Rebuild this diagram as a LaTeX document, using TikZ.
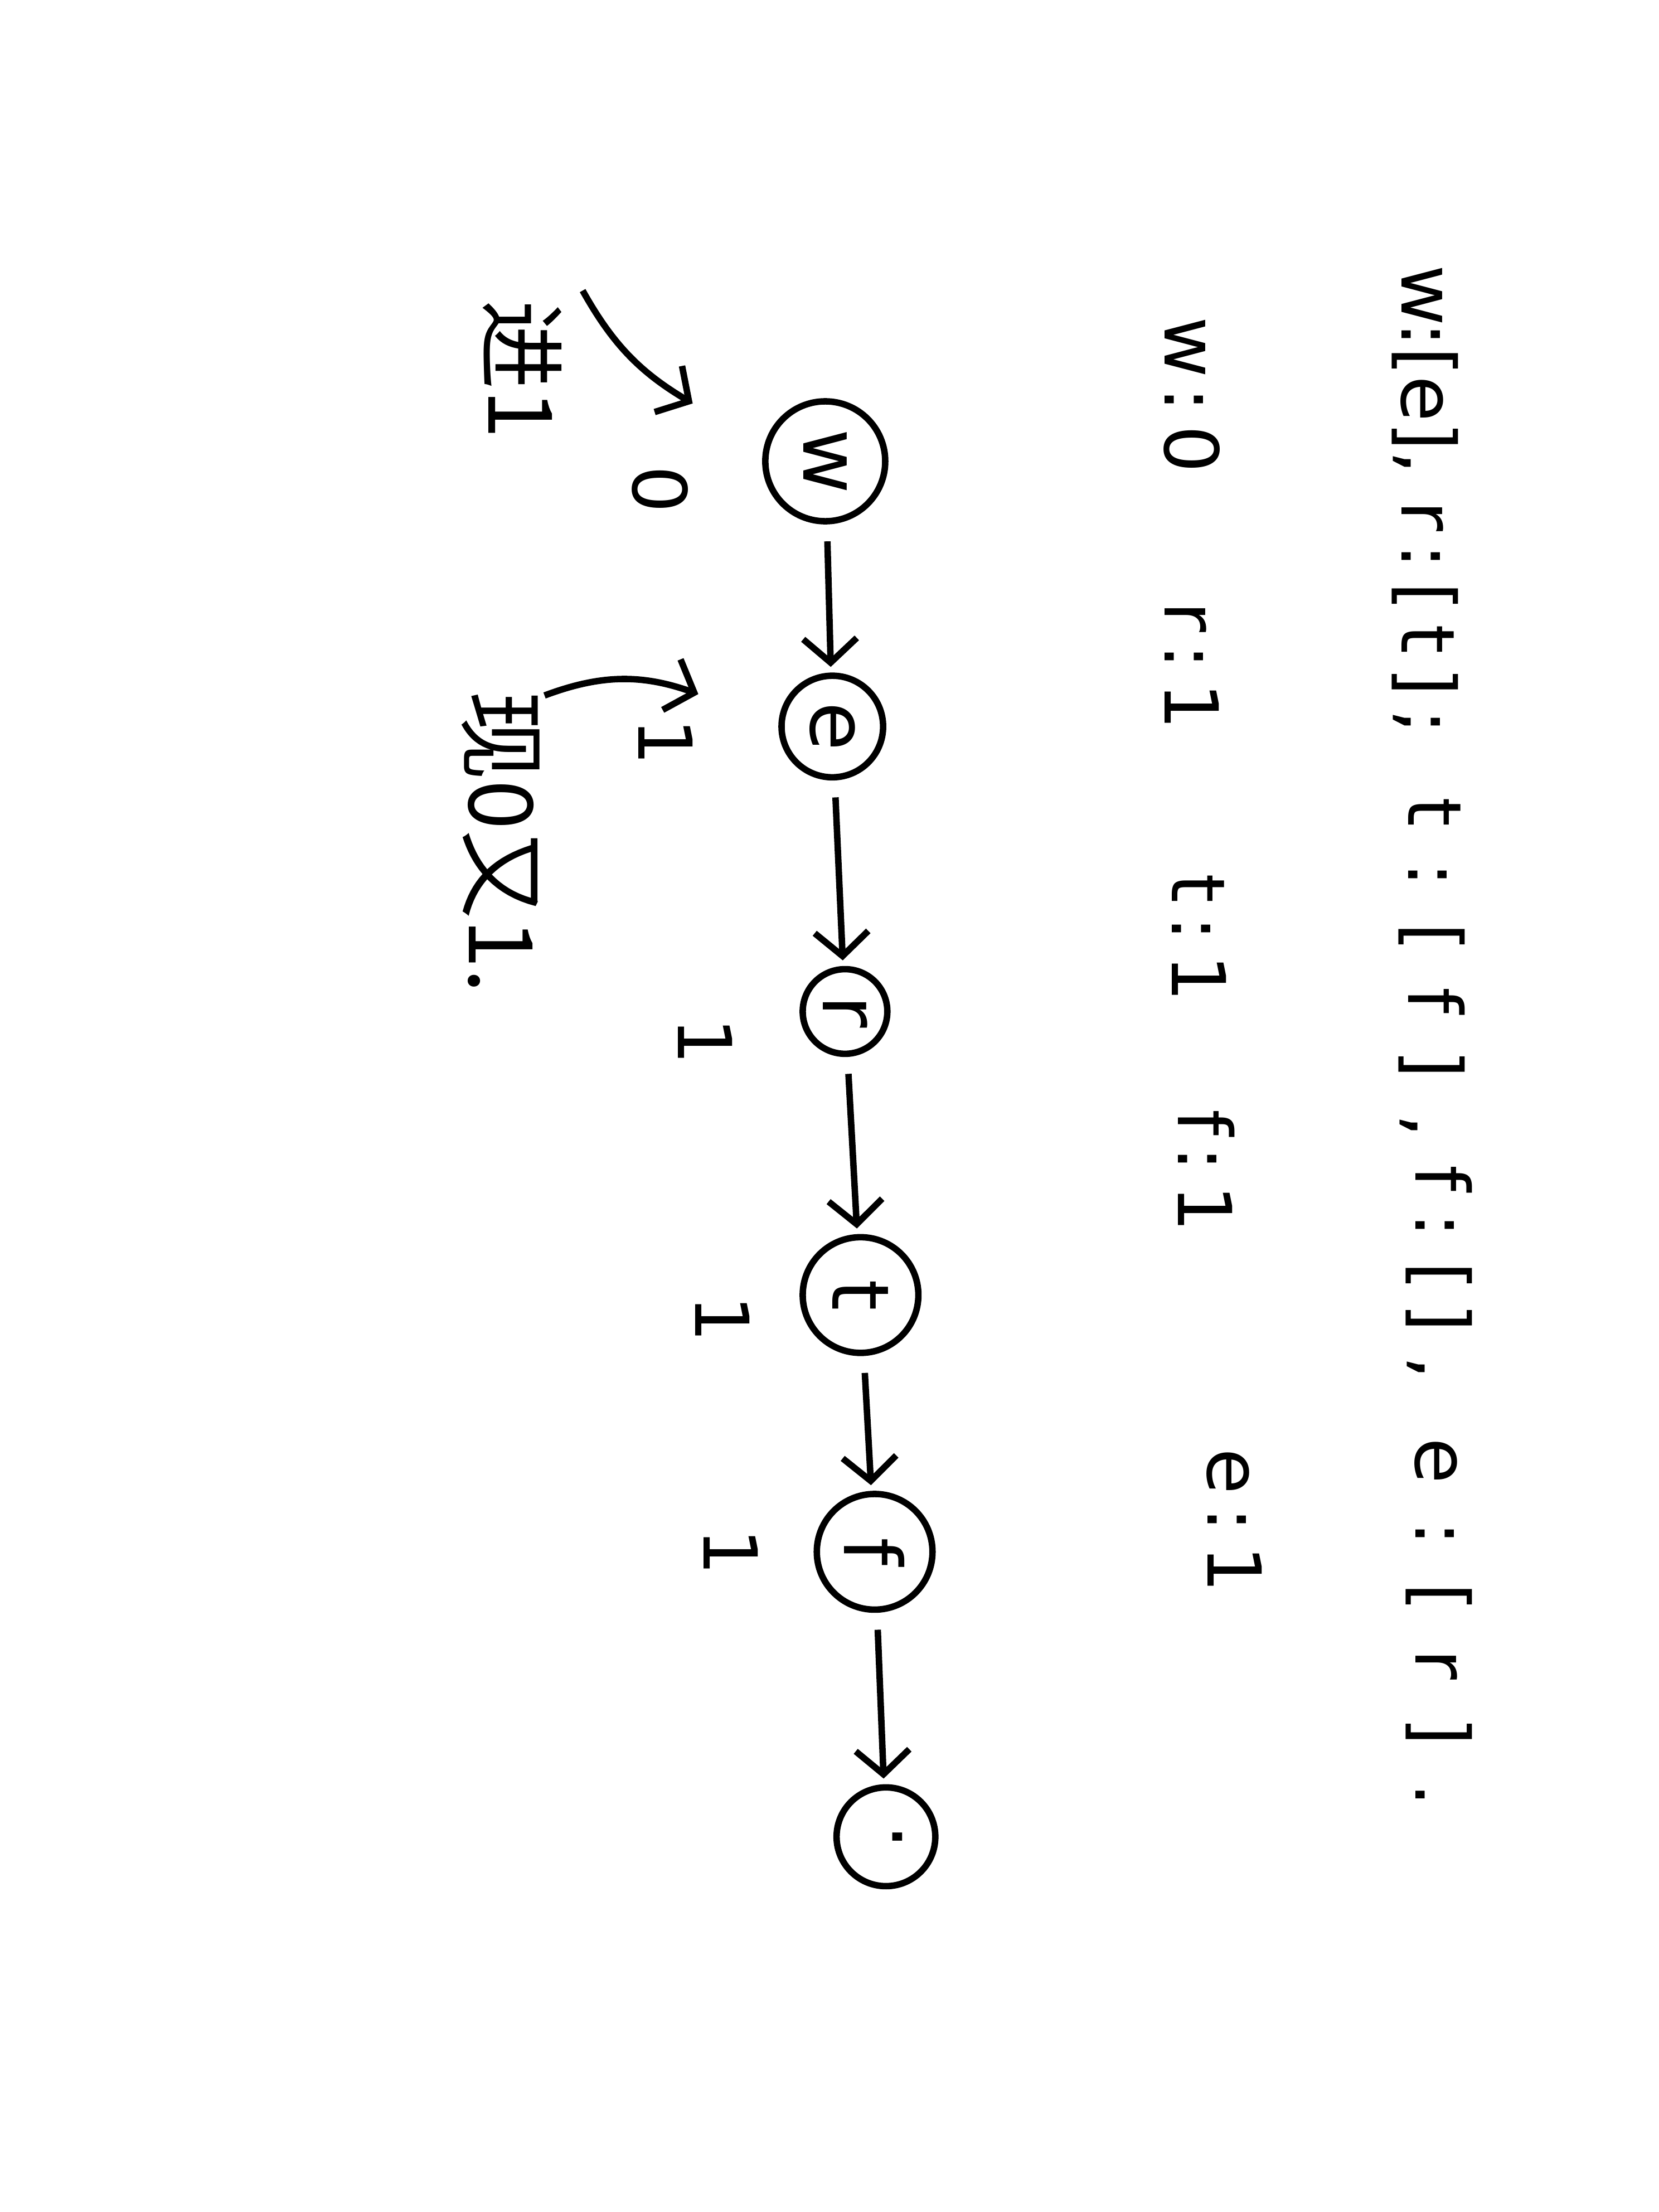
\documentclass[tikz,border=0pt]{standalone}
\usepackage{fontspec}
\setmainfont{DejaVu Sans}
\newfontfamily\hanfont{Noto Sans CJK SC}
\usetikzlibrary{arrows.meta}

\begin{document}
\begin{tikzpicture}[
        x=1cm, y=-1cm,
        every node/.style={rotate=-90, inner sep=1pt},
        vert/.style={circle, draw=black, line width=1.3pt, font=\fontsize{16}{16}\selectfont},
        listtxt/.style={font=\fontsize{15}{15}\selectfont\addfontfeature{LetterSpace=#1}},
        degtxt/.style={font=\fontsize{15}{15}\selectfont\addfontfeature{LetterSpace=18}},
        cnttxt/.style={font=\fontsize{15}{15}\selectfont},
        hantxt/.style={font=\hanfont\fontsize{18}{18}\selectfont},
        arrow/.style={-{Straight Barb[length=1.7mm,width=3.8mm]}, line width=1.3pt, shorten <=1.2mm, shorten >=0.4mm},
        note/.style={-{Straight Barb[length=1.7mm,width=3.8mm]}, line width=1.3pt}
    ]
    \useasboundingbox (0,0) rectangle (11.76,15.68);
    % Lists
    \node[listtxt=0] (adjw) at (10.10,2.62) {w:[e],};
    \node[listtxt=18] (adjr) at (10.10,4.38) {r:[t];};
    \node[listtxt=48] (adjt) at (10.15,6.86) {t:[f],};
    \node[listtxt=32] (adjf) at (10.20,9.02) {f:[\,],};
    \node[listtxt=50] (adje) at (10.20,11.50) {e:[r].};
    % In-degrees
    \node[degtxt] (degw) at (8.45,2.80) {w:0};
    \node[degtxt] (degr) at (8.45,4.72) {r:1};
    \node[degtxt] (degt) at (8.50,6.65) {t:1};
    \node[degtxt] (degf) at (8.55,8.30) {f:1};
    \node[degtxt] (dege) at (8.75,10.78) {e:1};
    % Nodes
    \node[vert, minimum size=8.5mm] (w) at (5.85,3.27) {w};
    \node[vert, minimum size=7.2mm] (e) at (5.90,5.15) {e};
    \node[vert, minimum size=6.0mm] (r) at (5.99,7.17) {r};
    \node[vert, minimum size=8.2mm] (t) at (6.10,9.18) {t};
    \node[vert, minimum size=8.2mm] (f) at (6.20,11.00) {f};
    \node[vert, minimum size=7.0mm] (end) at (6.28,13.02) {·};
    % Counts
    \node[cnttxt] (inw) at (4.68,3.47) {0};
    \node[cnttxt] (ine) at (4.72,5.26) {1};
    \node[cnttxt] (inr) at (5.00,7.38) {1};
    \node[cnttxt] (int) at (5.12,9.35) {1};
    \node[cnttxt] (inf) at (5.18,11.00) {1};
    % Notes
    \node[hantxt] (jin) at (3.70,2.62) {进1};
    \node[hantxt] (xian) at (3.55,5.97) {现0又1.};
    \coordinate (wtail) at (4.13,2.06);
    \coordinate (whead) at (4.91,2.86);
    \coordinate (etail) at (3.86,4.93);
    \coordinate (ehead) at (4.95,4.92);
    % Arrows
    \draw[arrow] (w) -- (e);
    \draw[arrow] (e) -- (r);
    \draw[arrow] (r) -- (t);
    \draw[arrow] (t) -- (f);
    \draw[arrow] (f) -- (end);
    \draw[note] (wtail) to[bend right=15] (whead);
    \draw[note] (etail) to[bend left=20] (ehead);
\end{tikzpicture}
\end{document}
